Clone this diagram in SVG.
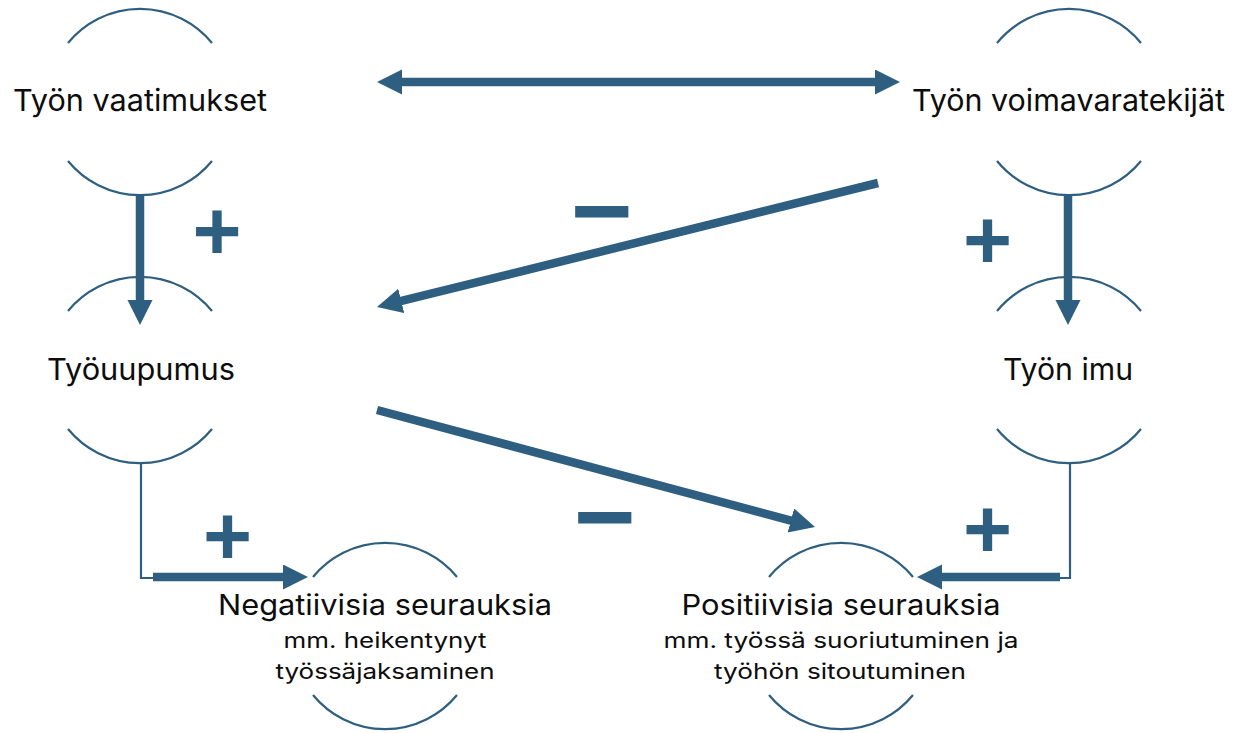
<svg xmlns="http://www.w3.org/2000/svg" width="1245" height="733" viewBox="0 0 1245 733">
<defs>
<style>
.arc{fill:none;stroke:#2E5F80;stroke-width:2.2}
.lbl{font-family:Inter,"Liberation Sans",sans-serif;font-size:30px;fill:#0d0d0d;text-anchor:middle}
.lbl2{font-family:Inter,"Liberation Sans",sans-serif;font-size:28.5px;fill:#0d0d0d;text-anchor:middle}
.sub{font-family:Inter,"Liberation Sans",sans-serif;font-size:21.5px;fill:#0d0d0d;text-anchor:middle}
.thick{fill:none;stroke:#2E5F80;stroke-width:8.5}
.thin{fill:none;stroke:#2E5F80;stroke-width:2.2}
.sign{font-family:"Liberation Sans",sans-serif;font-weight:bold;fill:#2E5F80;text-anchor:middle}
</style>
<marker id="ah" markerUnits="userSpaceOnUse" markerWidth="26" markerHeight="26" viewBox="0 0 26 26" refX="5" refY="12.5" orient="auto-start-reverse">
<path d="M0,0 L25,12.5 L0,25 Z" fill="#2E5F80"/>
</marker>
</defs>
<rect width="1245" height="733" fill="#ffffff"/>

<g id="node-vaatimukset">
<path class="arc" d="M68,43 A93,93 0 0 1 212,43"/>
<path class="arc" d="M68,161 A93,93 0 0 0 212,161"/>
<text class="lbl" x="140" y="111" textLength="254" lengthAdjust="spacingAndGlyphs">Työn vaatimukset</text>
</g>

<g id="node-voimavarat">
<path class="arc" d="M997,43 A93,93 0 0 1 1141,43"/>
<path class="arc" d="M997,161 A93,93 0 0 0 1141,161"/>
<text class="lbl" x="1068.5" y="111" textLength="313" lengthAdjust="spacingAndGlyphs">Työn voimavaratekijät</text>
</g>

<g id="node-tyouupumus">
<path class="arc" d="M68,311 A93,93 0 0 1 212,311"/>
<path class="arc" d="M68,429 A93,93 0 0 0 212,429"/>
<text class="lbl" x="141" y="380" textLength="188" lengthAdjust="spacingAndGlyphs">Työuupumus</text>
</g>

<g id="node-imu">
<path class="arc" d="M997,311 A93,93 0 0 1 1141,311"/>
<path class="arc" d="M997,429 A93,93 0 0 0 1141,429"/>
<text class="lbl" x="1068" y="380" textLength="130" lengthAdjust="spacingAndGlyphs">Työn imu</text>
</g>

<g id="node-negatiivisia">
<path class="arc" d="M313,577 A93,93 0 0 1 457,577"/>
<path class="arc" d="M313,695 A93,93 0 0 0 457,695"/>
<text class="lbl2" x="385" y="615" textLength="334" lengthAdjust="spacingAndGlyphs">Negatiivisia seurauksia</text>
<text class="sub" x="385" y="648" textLength="203" lengthAdjust="spacingAndGlyphs">mm. heikentynyt</text>
<text class="sub" x="385" y="679" textLength="219" lengthAdjust="spacingAndGlyphs">työssäjaksaminen</text>
</g>

<g id="node-positiivisia">
<path class="arc" d="M769,577 A93,93 0 0 1 913,577"/>
<path class="arc" d="M769,695 A93,93 0 0 0 913,695"/>
<text class="lbl2" x="841" y="615" textLength="319" lengthAdjust="spacingAndGlyphs">Positiivisia seurauksia</text>
<text class="sub" x="841" y="648" textLength="355" lengthAdjust="spacingAndGlyphs">mm. työssä suoriutuminen ja</text>
<text class="sub" x="840" y="679" textLength="252" lengthAdjust="spacingAndGlyphs">työhön sitoutuminen</text>
</g>

<g id="connectors">
<line class="thick" x1="397" y1="82" x2="880" y2="82" marker-start="url(#ah)" marker-end="url(#ah)"/>
<line class="thick" x1="878" y1="183" x2="396.4" y2="302.2" marker-end="url(#ah)"/>
<line class="thick" x1="377" y1="410" x2="795.7" y2="521.8" marker-end="url(#ah)"/>
<line class="thick" x1="140" y1="195" x2="140" y2="305" marker-end="url(#ah)"/>
<line class="thick" x1="1068" y1="195" x2="1068" y2="305" marker-end="url(#ah)"/>
<polyline class="thin" points="141,463 141,578 155,578"/>
<line class="thick" x1="153" y1="577" x2="288" y2="577" marker-end="url(#ah)"/>
<polyline class="thin" points="1070,463 1070,578 1058,578"/>
<line class="thick" x1="1060" y1="577" x2="937" y2="577" marker-end="url(#ah)"/>
</g>

<g id="signs">
<text class="sign" x="217" y="260" font-size="84">+</text>
<text class="sign" x="987.5" y="269" font-size="84">+</text>
<text class="sign" x="227.5" y="565" font-size="84">+</text>
<text class="sign" x="987.5" y="558" font-size="84">+</text>
<text class="sign" x="602" y="247" font-size="106">−</text>
<text class="sign" x="605" y="553" font-size="106">−</text>
</g>
</svg>
